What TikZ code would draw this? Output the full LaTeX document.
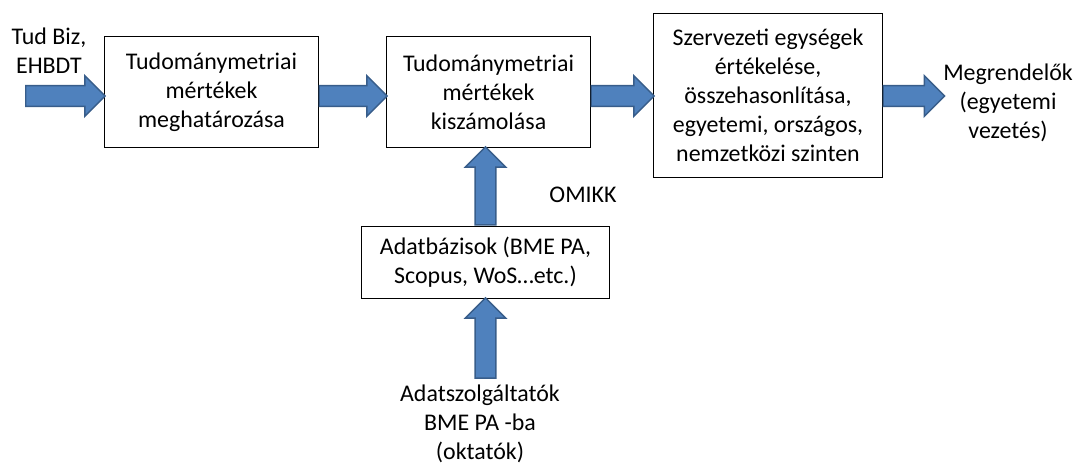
\documentclass[tikz,border=0pt]{standalone}
\usepackage{fontspec}
\setmainfont{Carlito}
\usetikzlibrary{positioning,shapes.arrows,calc}
\definecolor{arrowfill}{HTML}{4F81BD}
\definecolor{arrowline}{HTML}{385D8A}

% fat block arrow from one point to another
\newcommand{\blockarrow}[2]{%
  \path let \p1=(#1), \p2=(#2),
    \n1={atan2(\y2-\y1,\x2-\x1)}, \n2={veclen(\x2-\x1,\y2-\y1)} in
    node[fatarrow, anchor=tail, rotate=\n1, minimum height=\n2] at (\p1) {};}

\begin{document}
\begin{tikzpicture}[
  x=0.025cm, y=-0.025cm,
  every node/.style={font=\fontsize{17}{20.6}\selectfont, align=center},
  box/.style={draw, line width=0.7pt, inner sep=0pt},
  fatarrow/.style={single arrow, fill=arrowfill, draw=arrowline, line width=1pt,
                   inner xsep=0pt, inner ysep=0.24cm, single arrow head extend=0.25cm}
]
  \useasboundingbox (0,0) rectangle (1077,466);

  \node[box, minimum width=5.325cm, minimum height=2.75cm] (meghat) at (211.5,92) {
    Tudománymetriai\\mértékek\\meghatározása
  };
  \node[box, minimum width=5.075cm, minimum height=2.75cm] (kiszam) at (488.5,92) {
    Tudománymetriai\\mértékek\\kiszámolása
  };
  \node[box, minimum width=5.7cm, minimum height=4.075cm] (ertekel) at (768,95.5) {
    Szervezeti egységek\\értékelése,\\összehasonlítása,\\egyetemi, országos,\\nemzetközi szinten
  };
  \node[box, minimum width=6.175cm, minimum height=1.8cm] (adatb) at (485.5,262) {
    Adatbázisok (BME PA,\\Scopus, WoS…etc.)
  };

  \node (tudbiz) at (49,51) {Tud Biz,\\EHBDT};
  \node (megrend) at (1008,103) {Megrendelők\\(egyetemi\\vezetés)};
  \node (omikk) at (583,195) {OMIKK};
  \node[inner sep=0pt] (adatszolg) at (480,424) {Adatszolgáltatók\\BME PA -ba\\(oktatók)};

  \coordinate (bemenet) at (25,96);
  \coordinate (kimenet) at (944,96);
  \coordinate (adatszolgtop) at ([yshift=0.15cm]adatszolg.north);
  \coordinate (meghatki) at ([yshift=-0.1cm]meghat.east);
  \coordinate (kiszamki) at ([yshift=-0.1cm]kiszam.east);

  \blockarrow{bemenet}{bemenet -| meghat.west}
  \blockarrow{meghatki}{meghatki -| kiszam.west}
  \blockarrow{kiszamki}{kiszamki -| ertekel.west}
  \blockarrow{kimenet -| ertekel.east}{kimenet}
  \blockarrow{adatb.north}{adatb.north |- kiszam.south}
  \blockarrow{adatb.south |- adatszolgtop}{adatb.south}
\end{tikzpicture}
\end{document}
